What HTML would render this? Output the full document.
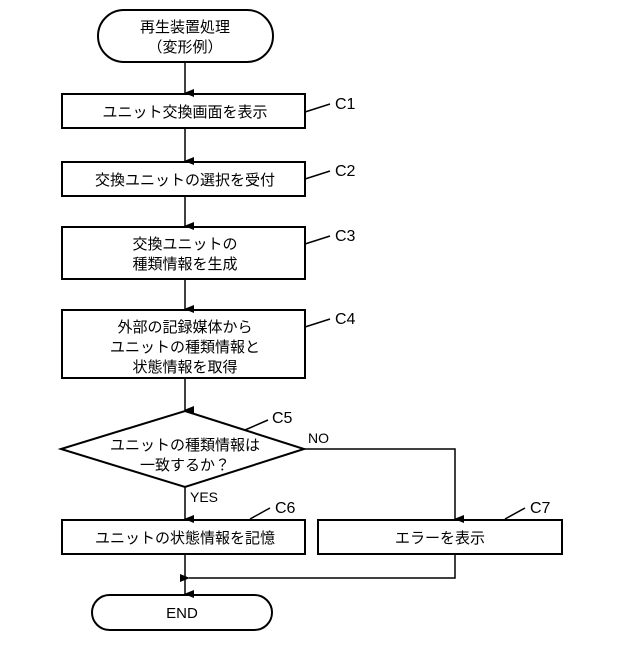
<!DOCTYPE html>
<html><head><meta charset="utf-8"><style>
body{margin:0;background:#fff}
svg text{font-family:"Liberation Sans","Noto Sans CJK JP",sans-serif;font-size:15px;fill:#000}
</style></head><body>
<svg width="640" height="640" viewBox="0 0 640 640" xmlns="http://www.w3.org/2000/svg">
<defs><marker id="a" markerWidth="8" markerHeight="10" refX="4" refY="9" orient="auto" markerUnits="userSpaceOnUse"><path d="M0,0 L4,10 L8,0 Z" fill="#000"/></marker>
<marker id="l" markerWidth="10" markerHeight="8" refX="1" refY="4" orient="auto" markerUnits="userSpaceOnUse"><path d="M10,0 L0,4 L10,8 Z" fill="#000"/></marker></defs>
<g fill="none" stroke="#000" stroke-width="2">
<rect x="98" y="10" width="175" height="52" rx="26"/>
<rect x="62" y="94" width="243" height="34"/>
<rect x="62" y="162" width="243" height="34"/>
<rect x="62" y="227" width="243" height="52"/>
<rect x="62" y="310" width="243" height="68"/>
<path d="M185,411 L304,449 L185,487 L61,449 Z"/>
<rect x="62" y="520" width="243" height="34"/>
<rect x="318" y="520" width="244" height="34"/>
<rect x="92" y="595" width="180" height="35" rx="17.5"/>
</g>
<g stroke="#000" stroke-width="1.5" fill="none">
<line x1="185" y1="62" x2="185" y2="93" marker-end="url(#a)"/>
<line x1="185" y1="128" x2="185" y2="161" marker-end="url(#a)"/>
<line x1="185" y1="196" x2="185" y2="226" marker-end="url(#a)"/>
<line x1="185" y1="279" x2="185" y2="309" marker-end="url(#a)"/>
<line x1="185" y1="378" x2="185" y2="410" marker-end="url(#a)"/>
<line x1="185" y1="487" x2="185" y2="519" marker-end="url(#a)"/>
<polyline points="304,449 455,449 455,519" marker-end="url(#a)"/>
<polyline points="455,554 455,578 189,578" marker-end="url(#l)"/>
<line x1="185" y1="554" x2="185" y2="594" marker-end="url(#a)"/>
<line x1="305" y1="112" x2="330" y2="104"/>
<line x1="305" y1="179" x2="330" y2="171"/>
<line x1="305" y1="244" x2="330" y2="236"/>
<line x1="305" y1="327" x2="330" y2="319"/>
<line x1="245" y1="430" x2="268" y2="420"/>
<line x1="250" y1="519" x2="270" y2="508"/>
<line x1="505" y1="519" x2="525" y2="508"/>
</g>
<g text-anchor="middle">
<text x="185" y="32">再生装置処理</text>
<text x="185" y="52">（変形例）</text>
<text x="185" y="117">ユニット交換画面を表示</text>
<text x="185" y="185">交換ユニットの選択を受付</text>
<text x="185" y="249">交換ユニットの</text>
<text x="185" y="269">種類情報を生成</text>
<text x="185" y="332">外部の記録媒体から</text>
<text x="185" y="352">ユニットの種類情報と</text>
<text x="185" y="372">状態情報を取得</text>
<text x="185" y="450">ユニットの種類情報は</text>
<text x="185" y="470">一致するか？</text>
<text x="185" y="543">ユニットの状態情報を記憶</text>
<text x="440" y="543">エラーを表示</text>
<text x="182" y="618">END</text>
</g>
<g font-size="14">
<text x="335" y="109" style="font-size:16px">C1</text>
<text x="335" y="176" style="font-size:16px">C2</text>
<text x="335" y="241" style="font-size:16px">C3</text>
<text x="335" y="324" style="font-size:16px">C4</text>
<text x="272" y="423" style="font-size:16px">C5</text>
<text x="275" y="513" style="font-size:16px">C6</text>
<text x="530" y="513" style="font-size:16px">C7</text>
<text x="308" y="443" style="font-size:14px">NO</text>
<text x="190" y="502" style="font-size:14px">YES</text>
</g>
</svg>
</body></html>
